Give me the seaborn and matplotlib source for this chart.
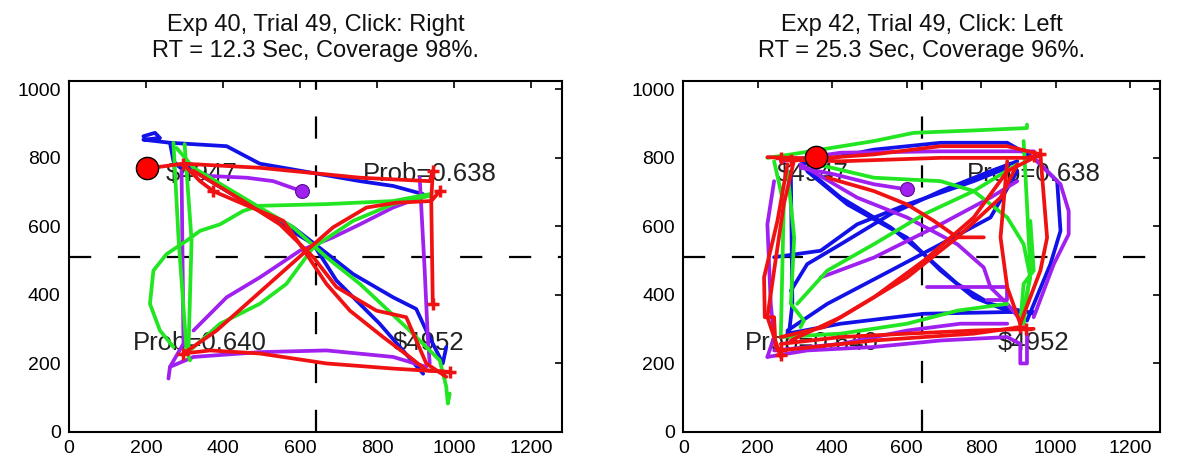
import pandas as pd
import seaborn as sns
import matplotlib.pyplot as plt

# Mouse trajectories, in screen pixels (1280 x 1024)
left_blue = [
    [(193, 863), (223, 873), (236, 858), (193, 853), (262, 844), (409, 834), (495, 783),
     (755, 732), (841, 718), (919, 694)],
    [(305, 781), (374, 732), (461, 674), (582, 597), (660, 529), (737, 461), (841, 393),
     (901, 359), (927, 296), (970, 200), (979, 248)],
    [(323, 762), (495, 645), (634, 548), (694, 442), (806, 316), (919, 170)],
    [(262, 844), (271, 790), (290, 770)],
]
left_purple = [
    [(608, 701), (530, 732), (461, 742), (366, 747), (305, 762)],
    [(292, 762), (297, 258), (262, 190), (258, 156)],
    [(262, 190), (323, 219), (495, 233), (668, 238), (841, 219), (927, 190)],
    [(323, 296), (409, 393), (495, 451), (599, 529), (685, 568), (755, 606), (841, 655), (910, 684)],
    [(910, 742), (923, 471), (931, 277), (936, 200)],
]
left_green = [
    [(271, 844), (284, 568), (305, 238), (314, 209)],
    [(936, 694), (841, 674), (668, 665), (495, 660), (452, 645), (392, 606), (340, 587),
     (305, 558), (253, 519), (219, 471), (210, 374), (236, 296), (271, 248)],
    [(279, 829), (323, 771), (452, 684), (582, 597), (668, 510), (755, 432), (884, 296),
     (962, 209), (979, 132), (983, 83), (988, 112)],
    [(314, 238), (392, 316), (495, 374), (564, 432), (634, 539), (737, 616), (841, 665), (936, 689)],
    [(300, 840), (318, 560), (310, 240)],
]
left_red = [
    [(203, 769), (297, 783), (495, 771), (755, 742), (936, 732), (944, 762), (940, 674), (944, 374)],
    [(297, 781), (340, 732), (374, 703), (495, 645), (556, 616), (599, 548), (668, 432),
     (729, 354), (815, 277), (884, 219), (927, 180), (988, 175)],
    [(323, 762), (452, 674), (547, 606), (634, 510), (694, 423), (798, 354), (875, 335),
     (927, 200), (979, 161)],
    [(297, 229), (383, 296), (461, 374), (538, 451), (616, 529), (685, 597), (772, 655),
     (849, 669), (940, 674), (962, 703)],
    [(297, 229), (366, 238), (495, 229), (668, 200), (841, 185), (988, 175)],
]
left_clicks = [(297, 783), (374, 703), (944, 762), (944, 374), (962, 703), (297, 229), (988, 175)]

right_blue = [
    [(315, 781), (512, 824), (691, 844), (870, 844), (941, 800)],
    [(315, 781), (423, 684), (557, 597), (646, 519), (736, 432), (825, 374), (941, 345)],
    [(333, 761), (441, 664), (601, 567), (691, 471), (780, 393), (870, 354)],
    [(289, 412), (333, 490), (423, 548), (557, 636), (691, 703), (825, 761), (897, 790)],
    [(289, 761), (293, 374), (284, 287)],
    [(280, 287), (423, 316), (646, 345), (870, 350), (941, 350)],
    [(244, 510), (369, 529), (467, 606), (601, 664), (780, 732), (870, 771)],
    [(941, 800), (1004, 732), (1013, 587), (986, 490), (923, 325)],
    [(280, 296), (387, 374), (557, 471), (691, 548), (825, 626), (897, 761)],
]
right_purple = [
    [(600, 708), (512, 723), (405, 752), (315, 771)],
    [(315, 781), (467, 684), (601, 626), (736, 548), (807, 480), (825, 422), (870, 374), (914, 316)],
    [(244, 732), (226, 606), (235, 374), (244, 277), (226, 219)],
    [(226, 219), (333, 238), (512, 248), (691, 267), (870, 277), (905, 257), (905, 200),
     (923, 200), (923, 287)],
    [(262, 790), (423, 815), (691, 819), (941, 819)],
    [(941, 800), (1013, 723), (1035, 645), (1035, 577), (995, 490), (941, 335)],
    [(369, 451), (512, 509), (691, 606), (825, 684), (897, 732)],
    [(655, 422), (870, 422), (870, 384), (816, 384)],
    [(244, 238), (423, 257), (601, 296), (744, 316), (870, 316)],
]
right_green = [
    [(226, 800), (289, 810), (512, 849), (619, 873), (780, 880), (923, 887), (923, 897)],
    [(244, 790), (270, 664), (262, 277)],
    [(280, 761), (298, 567), (289, 374), (324, 325), (315, 306)],
    [(360, 781), (512, 742), (691, 732), (780, 703), (870, 626), (914, 548), (932, 451), (905, 316)],
    [(306, 374), (387, 471), (512, 548), (646, 635), (780, 703), (897, 781)],
    [(914, 849), (923, 664), (932, 471), (914, 316)],
    [(262, 277), (423, 287), (601, 316), (736, 354), (870, 374)],
    [(905, 316), (914, 432), (941, 471), (932, 616)],
]
right_red = [
    [(226, 802), (360, 798), (512, 810), (691, 834), (870, 834), (959, 810)],
    [(262, 795), (423, 790), (691, 800), (941, 800)],
    [(298, 795), (270, 664), (244, 471), (226, 335), (253, 248), (262, 219)],
    [(280, 781), (253, 616), (217, 451), (219, 335), (244, 335), (248, 248)],
    [(262, 277), (378, 306), (512, 393), (646, 500), (780, 626), (870, 761), (941, 800)],
    [(289, 267), (423, 335), (601, 451), (736, 568), (852, 684), (897, 781)],
    [(387, 742), (512, 703), (601, 664), (673, 616), (736, 568), (807, 568)],
    [(870, 790), (852, 568), (870, 422), (905, 316)],
    [(959, 810), (977, 567), (959, 471), (905, 316)],
    [(262, 257), (423, 277), (601, 287), (780, 296), (941, 301)],
    [(262, 238), (512, 267), (780, 287), (905, 306)],
]
right_clicks = [(262, 800), (290, 795), (262, 240), (262, 225), (941, 805), (959, 810),
                (905, 306), (920, 300)]

titles = ["Exp 40, Trial 49, Click: Right\nRT = 12.3 Sec, Coverage 98%.",
          "Exp 42, Trial 49, Click: Left\nRT = 25.3 Sec, Coverage 96%."]
start_points = [(203, 769), (357, 802)]
final_points = [(605, 703), (600, 710)]
labels = ["$4947", "Prob=0.638", "Prob=0.640", "$4952"]
label_pos = [[(250, 754), (762, 754), (166, 261), (840, 261)],
             [(250, 754), (762, 754), (166, 261), (845, 261)]]

palette = {"blue": "#1212e8", "purple": "#a020f0", "green": "#22e622", "red": "#f01212"}


def to_frame(groups):
    rows = []
    for colour, paths in groups.items():
        for i, p in enumerate(paths):
            for x, y in p:
                rows.append((colour, f"{colour}{i}", x, y))
    return pd.DataFrame(rows, columns=["colour", "path", "x", "y"])


sns.set_style("white")
plt.rcParams["font.family"] = ["Liberation Sans", "DejaVu Sans"]
plt.rcParams["text.color"] = "black"

fig = plt.figure(figsize=(11.8, 4.66), dpi=100)
ax1 = fig.add_axes([0.0585, 0.073, 0.418, 0.753])
ax2 = fig.add_axes([0.579, 0.073, 0.404, 0.753])

panels = [
    (ax1, {"blue": left_blue, "purple": left_purple, "green": left_green, "red": left_red}, left_clicks),
    (ax2, {"blue": right_blue, "purple": right_purple, "green": right_green, "red": right_red}, right_clicks),
]

for k, (ax, groups, clicks) in enumerate(panels):
    df = to_frame(groups)
    ax.axvline(640, color="black", ls=(0, (10, 12)), lw=1.6, zorder=1)
    ax.axhline(512, color="black", ls=(0, (10, 12)), lw=1.6, zorder=1)
    for txt, (tx, ty) in zip(labels, label_pos[k]):
        ax.text(tx, ty, txt, fontsize=18.5, va="center", ha="left", color="#222222", zorder=2)
    sns.lineplot(data=df, x="x", y="y", hue="colour", units="path", estimator=None,
                 sort=False, palette=palette, hue_order=["blue", "purple", "green", "red"],
                 lw=2.7, legend=False, ax=ax, zorder=3)
    cx, cy = zip(*clicks)
    ax.plot(cx, cy, "+", ms=9, mew=2.5, color="#f01212", ls="none", zorder=3.5)
    ax.plot(*final_points[k], "o", ms=10, mfc="#a020f0", mec="#5a1090", mew=0.8, zorder=4)
    ax.plot(*start_points[k], "o", ms=16, mfc="red", mec="black", mew=1.0, zorder=4)

    ax.set_xlim(0, 1280)
    ax.set_ylim(0, 1024)
    ax.set_xticks(range(0, 1201, 200))
    ax.set_yticks(range(0, 1001, 200))
    ax.tick_params(direction="in", length=5, width=1.2, top=True, right=True,
                   labelsize=14, pad=6, colors="black")
    ax.set_xlabel("")
    ax.set_ylabel("")
    for s in ax.spines.values():
        s.set_color("black")
        s.set_linewidth(1.5)
    ax.set_title(titles[k], fontsize=17, pad=17, linespacing=1.25, color="#111111")

fig.savefig("out.png", dpi=100)
